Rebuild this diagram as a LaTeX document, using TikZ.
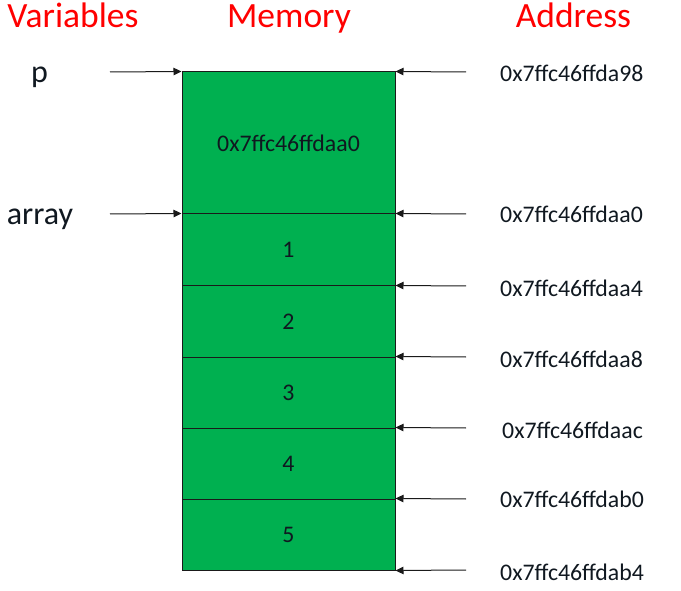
\documentclass[tikz,border=0pt]{standalone}
\usepackage{fontspec}
\setmainfont{Carlito}
\usetikzlibrary{arrows.meta}
\definecolor{memgreen}{HTML}{00B050}
\definecolor{headred}{HTML}{FF0000}
\definecolor{linegray}{HTML}{1A1A1A}
\definecolor{textdark}{HTML}{101820}
\begin{document}
\begin{tikzpicture}[x=1pt,y=-1pt,
  heading/.style={font=\fontsize{35.5}{40}\selectfont, text=headred, inner sep=0pt, anchor=base},
  varname/.style={font=\fontsize{32}{36}\selectfont, text=textdark, inner sep=0pt, anchor=base},
  addr/.style={font=\fontsize{23.8}{28}\selectfont, text=textdark, inner sep=0pt, anchor=base west},
  bigcell/.style={draw=linegray, line width=1pt, fill=memgreen, minimum width=213pt, minimum height=142pt, inner sep=0pt, text=textdark, font=\fontsize{23.8}{28}\selectfont},
  cell/.style={draw=linegray, line width=1pt, fill=memgreen, minimum width=213pt, minimum height=71pt, inner sep=0pt, text=textdark, font=\fontsize{23.8}{28}\selectfont},
  ptr/.style={draw=linegray, line width=1pt, -{Triangle[length=8pt,width=7.5pt]}}
]
\useasboundingbox (0,0) rectangle (681,591);
% headings
\node[heading] (hv) at (73,28) {Variables};
\node[heading] (hm) at (289,28) {Memory};
\node[heading] (ha) at (573.5,28) {Address};
% memory cells
\node[bigcell] (c0) at (288.5,143) {0x7ffc46ffdaa0};
\node[cell, minimum height=72pt] (c1) at (288.5,250) {1};
\node[cell] (c2) at (288.5,321.5) {2};
\node[cell] (c3) at (288.5,392.5) {3};
\node[cell] (c4) at (288.5,463.5) {4};
\node[cell] (c5) at (288.5,534.5) {5};
% variables
\node[varname] (vp) at (39.5,83) {p};
\node[varname] (varr) at (40,225) {array};
\coordinate (lp) at (110,72);
\coordinate (la) at (110,214);
\draw[ptr] (lp) -- (c0.north west);
\draw[ptr] (la) -- (c1.north west);
% addresses
\node[addr] (a0) at (500,82) {0x7ffc46ffda98};
\node[addr] (a1) at (500,223) {0x7ffc46ffdaa0};
\node[addr] (a2) at (500,297) {0x7ffc46ffdaa4};
\node[addr] (a3) at (500,367) {0x7ffc46ffdaa8};
\node[addr] (a4) at (502,438) {0x7ffc46ffdaac};
\node[addr] (a5) at (500,507) {0x7ffc46ffdab0};
\node[addr] (a6) at (500,580) {0x7ffc46ffdab4};
\coordinate (r0) at (466,72);
\coordinate (r1) at (466,214);
\coordinate (r2) at (466,286);
\coordinate (r3) at (466,357);
\coordinate (r4) at (466,428);
\coordinate (r5) at (466,499);
\coordinate (r6) at (466,570);
\draw[ptr] (r0) -- (c0.north east);
\draw[ptr] (r1) -- (c1.north east);
\draw[ptr] (r2) -- (c2.north east);
\draw[ptr] (r3) -- (c3.north east);
\draw[ptr] (r4) -- (c4.north east);
\draw[ptr] (r5) -- (c5.north east);
\draw[ptr] (r6) -- (c5.south east);
\end{tikzpicture}
\end{document}
